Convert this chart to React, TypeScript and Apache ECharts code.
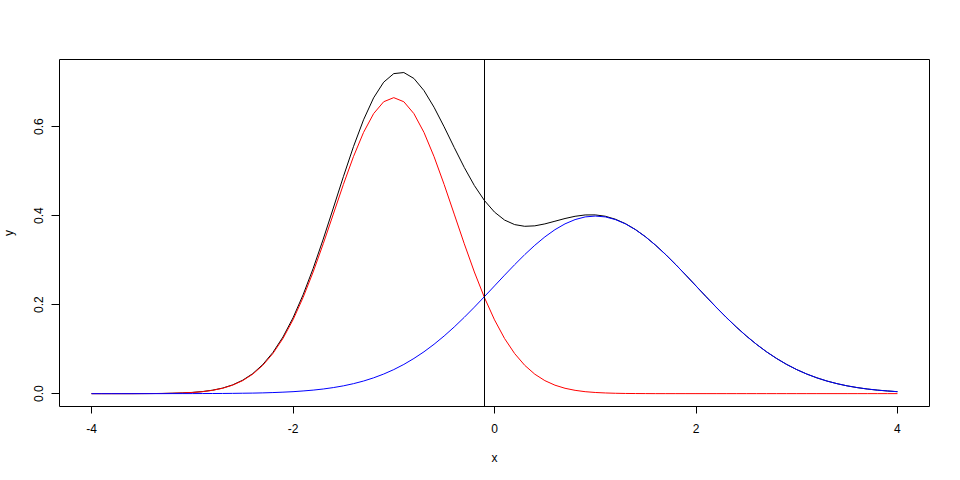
import React, { useEffect, useRef } from "react";
import * as echarts from "echarts";

const xValues: number[] = [
  -4.0, -3.9, -3.8, -3.7, -3.6, -3.5, -3.4, -3.3, -3.2, -3.1,
  -3.0, -2.9, -2.8, -2.7, -2.6, -2.5, -2.4, -2.3, -2.2, -2.1,
  -2.0, -1.9, -1.8, -1.7, -1.6, -1.5, -1.4, -1.3, -1.2, -1.1,
  -1.0, -0.9, -0.8, -0.7, -0.6, -0.5, -0.4, -0.3, -0.2, -0.1,
  0.0, 0.1, 0.2, 0.3, 0.4, 0.5, 0.6, 0.7, 0.8, 0.9,
  1.0, 1.1, 1.2, 1.3, 1.4, 1.5, 1.6, 1.7, 1.8, 1.9,
  2.0, 2.1, 2.2, 2.3, 2.4, 2.5, 2.6, 2.7, 2.8, 2.9,
  3.0, 3.1, 3.2, 3.3, 3.4, 3.5, 3.6, 3.7, 3.8, 3.9,
  4.0,
];

const redValues: number[] = [
  0, 0, 0, 0, 0, 0.0001, 0.0002, 0.0004, 0.0008, 0.0015,
  0.0026, 0.0044, 0.0074, 0.012, 0.019, 0.0292, 0.0437, 0.0636, 0.09, 0.1238,
  0.1658, 0.2159, 0.2733, 0.3367, 0.4033, 0.4699, 0.5324, 0.5868, 0.629, 0.6557,
  0.6649, 0.6557, 0.629, 0.5868, 0.5324, 0.4699, 0.4033, 0.3367, 0.2733, 0.2159,
  0.1658, 0.1238, 0.09, 0.0636, 0.0437, 0.0292, 0.019, 0.012, 0.0074, 0.0044,
  0.0026, 0.0015, 0.0008, 0.0004, 0.0002, 0.0001, 0, 0, 0, 0,
  0, 0, 0, 0, 0, 0, 0, 0, 0, 0,
  0, 0, 0, 0, 0, 0, 0, 0, 0, 0,
  0,
];

const blueValues: number[] = [
  0, 0, 0, 0, 0, 0, 0, 0, 0.0001, 0.0001,
  0.0001, 0.0002, 0.0003, 0.0004, 0.0006, 0.0009, 0.0012, 0.0017, 0.0024, 0.0033,
  0.0044, 0.006, 0.0079, 0.0104, 0.0136, 0.0175, 0.0224, 0.0283, 0.0355, 0.044,
  0.054, 0.0656, 0.079, 0.094, 0.1109, 0.1295, 0.1497, 0.1714, 0.1942, 0.2179,
  0.242, 0.2661, 0.2897, 0.3123, 0.3332, 0.3521, 0.3683, 0.3814, 0.391, 0.397,
  0.3989, 0.397, 0.391, 0.3814, 0.3683, 0.3521, 0.3332, 0.3123, 0.2897, 0.2661,
  0.242, 0.2179, 0.1942, 0.1714, 0.1497, 0.1295, 0.1109, 0.094, 0.079, 0.0656,
  0.054, 0.044, 0.0355, 0.0283, 0.0224, 0.0175, 0.0136, 0.0104, 0.0079, 0.006,
  0.0044,
];

const blackValues: number[] = [
  0, 0, 0, 0, 0, 0.0001, 0.0002, 0.0004, 0.0009, 0.0016,
  0.0027, 0.0046, 0.0077, 0.0124, 0.0196, 0.0301, 0.0449, 0.0653, 0.0924, 0.1271,
  0.1702, 0.2219, 0.2812, 0.3471, 0.4169, 0.4874, 0.5548, 0.6151, 0.6645, 0.6997,
  0.7189, 0.7213, 0.708, 0.6808, 0.6433, 0.5994, 0.553, 0.5081, 0.4675, 0.4338,
  0.4078, 0.3899, 0.3797, 0.3759, 0.3769, 0.3813, 0.3873, 0.3934, 0.3984, 0.4014,
  0.4015, 0.3985, 0.3918, 0.3818, 0.3685, 0.3522, 0.3332, 0.3123, 0.2897, 0.2661,
  0.242, 0.2179, 0.1942, 0.1714, 0.1497, 0.1295, 0.1109, 0.094, 0.079, 0.0656,
  0.054, 0.044, 0.0355, 0.0283, 0.0224, 0.0175, 0.0136, 0.0104, 0.0079, 0.006,
  0.0044,
];

const xTicks: number[] = [-4, -2, 0, 2, 4];
const yTicks: number[] = [0, 0.2, 0.4, 0.6];
const verticalLineX = -0.1;

const FONT = "'Liberation Sans', Arial, sans-serif";

function pairs(ys: number[]): number[][] {
  return xValues.map((x, i) => [x, ys[i]]);
}

export default function App() {
  const ref = useRef<HTMLDivElement>(null);

  useEffect(() => {
    if (!ref.current) return;
    const chart = echarts.init(ref.current, undefined, { renderer: "svg" });
    const lineSeries = (name: string, data: number[], color: string, extra: any = {}) => ({
      name,
      type: "line",
      data: pairs(data),
      showSymbol: false,
      symbol: "none",
      smooth: false,
      lineStyle: { color, width: 1 },
      itemStyle: { color },
      silent: true,
      z: 3,
      ...extra,
    });
    chart.setOption({
      animation: false,
      backgroundColor: "#ffffff",
      textStyle: { fontFamily: FONT },
      grid: {
        left: 59.5,
        right: 30.5,
        top: 59.5,
        bottom: 73.5,
        show: true,
        borderColor: "#000",
        borderWidth: 1,
        backgroundColor: "transparent",
        containLabel: false,
        outerBoundsMode: "none",
      },
      xAxis: {
        type: "value",
        min: -4.318,
        max: 4.318,
        name: "x",
        nameLocation: "middle",
        nameGap: 45,
        nameTextStyle: { color: "#000", fontSize: 12, fontFamily: FONT },
        axisLine: { show: false, onZero: false },
        splitLine: { show: false },
        axisTick: {
          show: true,
          length: 7,
          lineStyle: { color: "#000", width: 1 },
          customValues: xTicks,
        },
        axisLabel: {
          show: true,
          color: "#000",
          fontSize: 12,
          fontFamily: FONT,
          margin: 16,
          customValues: xTicks,
          formatter: (v: number) => String(v),
        },
      },
      yAxis: {
        type: "value",
        min: -0.0289,
        max: 0.7506,
        name: "y",
        nameLocation: "middle",
        nameGap: 45,
        nameRotate: 90,
        nameTextStyle: { color: "#000", fontSize: 12, fontFamily: FONT },
        axisLine: { show: false, onZero: false },
        splitLine: { show: false },
        axisTick: {
          show: true,
          length: 8,
          lineStyle: { color: "#000", width: 1 },
          customValues: yTicks,
        },
        axisLabel: {
          show: true,
          color: "#000",
          fontSize: 12,
          fontFamily: FONT,
          rotate: 90,
          margin: 15,
          customValues: yTicks,
          formatter: (v: number) => v.toFixed(1),
        },
      },
      series: [
        lineSeries("total", blackValues, "#000000", {
          markLine: {
            silent: true,
            symbol: "none",
            label: { show: false },
            lineStyle: { color: "#000", width: 1, type: "solid" },
            data: [{ xAxis: verticalLineX }],
          },
        }),
        lineSeries("red", redValues, "#ff0000"),
        lineSeries("blue", blueValues, "#0000ff"),
      ],
    });
    return () => chart.dispose();
  }, []);

  return <div ref={ref} style={{ width: 960, height: 480, position: "absolute", left: 0, top: 0 }} />;
}
